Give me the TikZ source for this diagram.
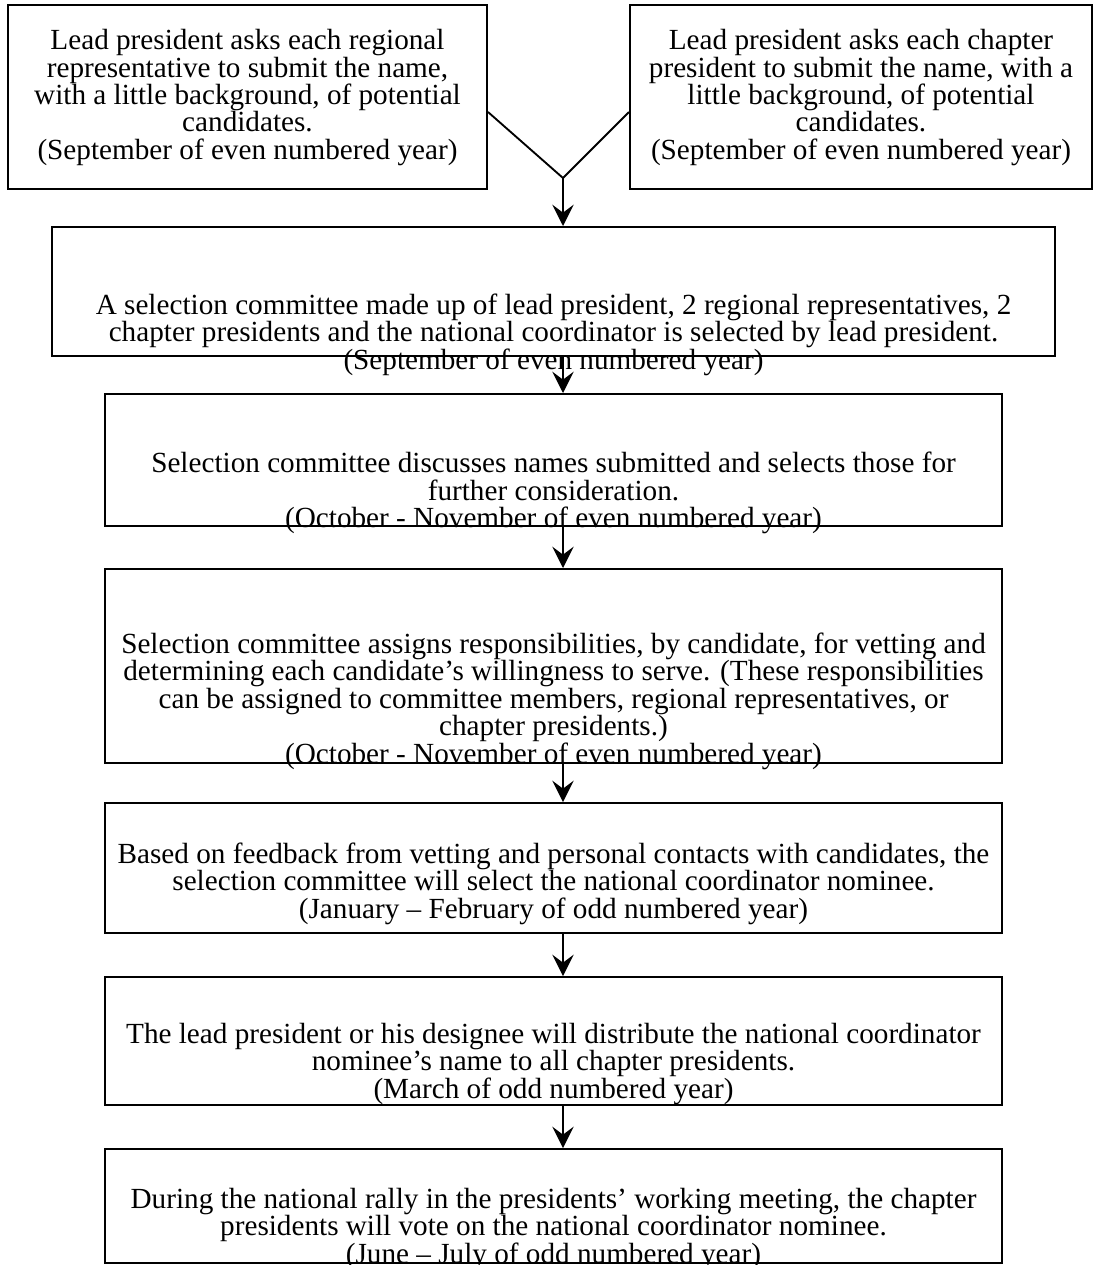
\documentclass[tikz,border=0pt]{standalone}
\usepackage{fontspec}
\setmainfont{Liberation Serif}
\usetikzlibrary{arrows.meta}
\begin{document}
\begin{tikzpicture}[x=0.75pt,y=-0.75pt,
  stepbox/.style 2 args={draw, line width=1.5pt, inner sep=0pt,
    minimum width={#1*0.75pt}, minimum height={#2*0.75pt}},
  txt/.style={align=center, inner sep=0pt,
    font=\fontsize{21.9pt}{20.6pt}\selectfont},
  ln/.style={line width=1.4pt},
  arr/.style={line width=1.4pt, -{Stealth[length=16pt,width=16pt,inset=6pt]}}]
\useasboundingbox (0,0) rectangle (1098,1265);
% boxes
\node[stepbox={479}{184}] (L)  at (247.5,97) {};
\node[stepbox={462}{184}] (R)  at (861,97) {};
\node[stepbox={1003}{129}] (B2) at (553.5,291.5) {};
\node[stepbox={897}{132}] (B3) at (553.5,460) {};
\node[stepbox={897}{194}] (B4) at (553.5,666) {};
\node[stepbox={897}{130}] (B5) at (553.5,868) {};
\node[stepbox={897}{128}] (B6) at (553.5,1041) {};
\node[stepbox={897}{114}] (B7) at (553.5,1206) {};
% texts
\node[txt] (tL) at (247.5,97.5) {Lead president asks each regional\\representative to submit the name,\\with a little background, of potential\\candidates.\\(September of even numbered year)};
\node[txt] (tR) at (861,97.5) {Lead president asks each chapter\\president to submit the name, with a\\little background, of potential\\candidates.\\(September of even numbered year)};
\node[txt] (t2) at (553.5,334.5) {A selection committee made up of lead president, 2 regional representatives, 2\\chapter presidents and the national coordinator is selected by lead president.\\(September of even numbered year)};
\node[txt] (t3) at (553.5,493) {Selection committee discusses names submitted and selects those for\\further consideration.\\(October - November of even numbered year)};
\node[txt] (t4) at (553.5,701) {Selection committee assigns responsibilities, by candidate, for vetting and\\determining each candidate’s willingness to serve. (These responsibilities\\can be assigned to committee members, regional representatives, or\\chapter presidents.)\\(October - November of even numbered year)};
\node[txt] (t5) at (553.5,883.5) {Based on feedback from vetting and personal contacts with candidates, the\\selection committee will select the national coordinator nominee.\\(January – February of odd numbered year)};
\node[txt] (t6) at (553.5,1064) {The lead president or his designee will distribute the national coordinator\\nominee’s name to all chapter presidents.\\(March of odd numbered year)};
\node[txt] (t7) at (553.5,1229) {During the national rally in the presidents’ working meeting, the chapter\\presidents will vote on the national coordinator nominee.\\(June – July of odd numbered year)};
% connectors
\coordinate (j) at (563,178);
\draw[ln] ([yshift=-11.25pt]L.east) -- (j);
\draw[ln] ([yshift=-11.25pt]R.west) -- (j);
\draw[arr] (j) -- (j |- B2.north);
\draw[arr] (B2.south -| j) -- (B3.north -| j);
\draw[arr] (B3.south -| j) -- (B4.north -| j);
\draw[arr] (B4.south -| j) -- (B5.north -| j);
\draw[arr] (B5.south -| j) -- (B6.north -| j);
\draw[arr] (B6.south -| j) -- (B7.north -| j);
\end{tikzpicture}
\end{document}
